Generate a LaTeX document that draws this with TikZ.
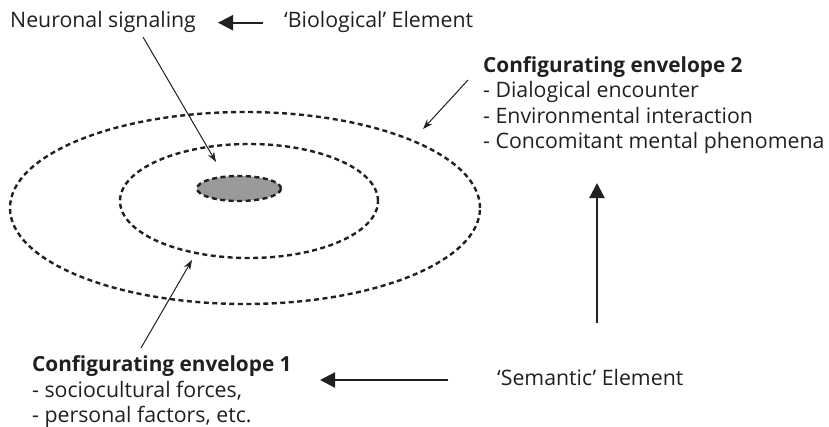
\documentclass[tikz,border=0pt]{standalone}
\usepackage{fontspec}
\setmainfont{Open Sans}
\usetikzlibrary{arrows.meta,shapes.geometric}
\definecolor{ink}{HTML}{231F20}
\definecolor{blob}{HTML}{9A9A9A}
\begin{document}
\begin{tikzpicture}[x=1pt,y=-1pt,
  env/.style={ellipse, draw=ink, line width=2.4pt, dash pattern=on 5pt off 3.5pt, inner sep=0pt},
  lbl/.style={anchor=base west, inner sep=0pt, text=ink, font=\fontsize{21.3}{25.5}\selectfont},
  bold lbl/.style={lbl, font=\fontsize{20.8}{25.5}\selectfont\bfseries},
  thick arrow/.style={draw=ink, line width=2.2pt, -{Triangle[length=15pt,width=15pt]}},
  thin arrow/.style={draw=ink, line width=1pt, -{Stealth[length=10pt,width=7pt]}}]
\useasboundingbox (0,0) rectangle (829,426);

% envelopes
\node[env, minimum width=470pt, minimum height=192pt] (outer) at (245,208) {};
\node[env, minimum width=258pt, minimum height=114pt] (inner) at (249,201) {};
\node[env, fill=blob, minimum width=84pt, minimum height=25pt] (core) at (239,188.5) {};

% labels
\node[lbl] (neur) at (10,27) {Neuronal signaling};
\node[lbl] (bio) at (284,27) {‘Biological’ Element};

\node[bold lbl] (envtwo) at (483,72) {Configurating envelope 2};
\node[lbl] (envtwoa) at (483,97.5) {- Dialogical encounter};
\node[lbl] (envtwob) at (483,123) {- Environmental interaction};
\node[lbl] (envtwoc) at (483,148.5) {- Concomitant mental phenomena};

\node[bold lbl] (envone) at (32,371) {Configurating envelope 1};
\node[lbl] (envonea) at (32,397) {- sociocultural forces,};
\node[lbl] (envoneb) at (32,422) {- personal factors, etc.};

\node[lbl] (sem) at (497,385) {‘Semantic’ Element};

% connector end points
\coordinate (bioS) at (263,22.7);
\coordinate (bioE) at (218,22.7);
\coordinate (semS) at (448,380);
\coordinate (semE) at (320,380);
\coordinate (upS) at (597,323);
\coordinate (upE) at (597,183);
\coordinate (neurS) at (143,37);
\coordinate (neurE) at (216,162);
\coordinate (oneS) at (141,348);
\coordinate (oneE) at (192,260);
\coordinate (twoS) at (468,80);
\coordinate (twoE) at (423,129);

% thick arrows
\draw[thick arrow] (bioS) -- (bioE);
\draw[thick arrow] (semS) -- (semE);
\draw[thick arrow] (upS) -- (upE);

% thin arrows
\draw[thin arrow] (neurS) -- (neurE);
\draw[thin arrow] (oneS) -- (oneE);
\draw[thin arrow] (twoS) -- (twoE);
\end{tikzpicture}
\end{document}
